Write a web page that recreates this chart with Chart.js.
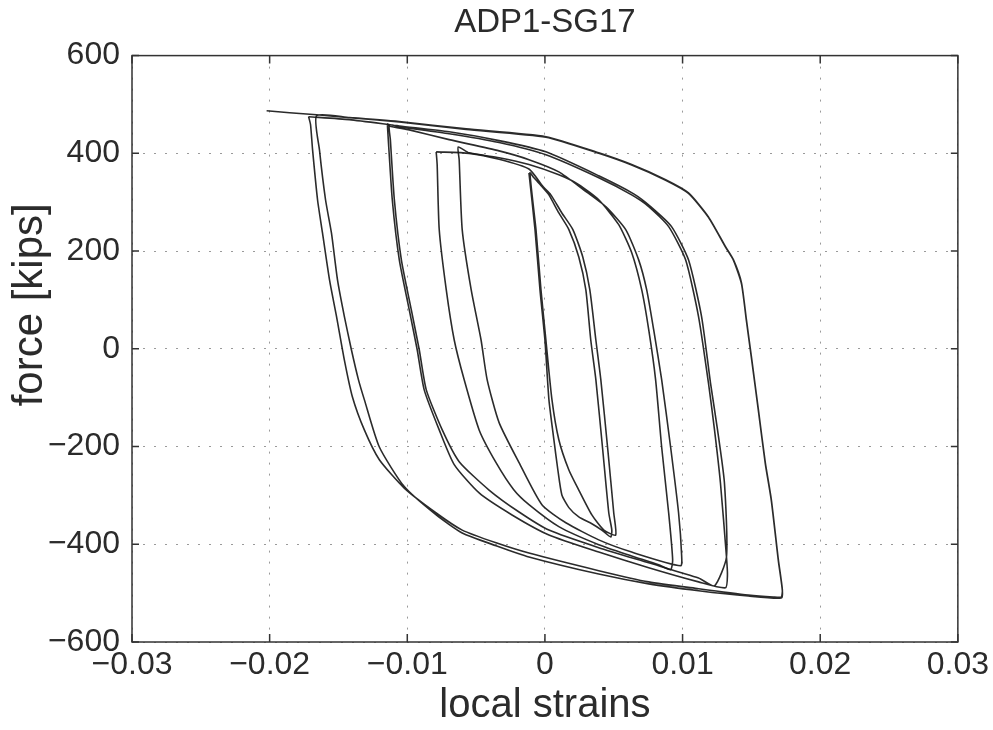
<!DOCTYPE html>
<html>
<head>
<meta charset="utf-8">
<title>ADP1-SG17</title>
<script src="https://cdn.jsdelivr.net/npm/chart.js"></script>
<style>
  html, body { margin: 0; padding: 0; background: #fff; }
  #wrap { width: 993px; height: 730px; }
</style>
</head>
<body>
<div id="wrap"><canvas id="chart" width="993" height="730"></canvas></div>
<script>
// Axis ticks and labels
const xTicks = [-0.03, -0.02, -0.01, 0, 0.01, 0.02, 0.03];
const xTickLabels = ['\u22120.03', '\u22120.02', '\u22120.01', '0', '0.01', '0.02', '0.03'];
const yTicks = [-600, -400, -200, 0, 200, 400, 600];
const yTickLabels = ['\u2212600', '\u2212400', '\u2212200', '0', '200', '400', '600'];
const yTitle = 'force [kips]';

// Cycles at the smallest amplitude (two loops)
const level1Strain = [
  -0.00116, -0.00072, -0.00036, 0, 0.00029, 0.00065, 0.00094, 0.00123, 0.00174, 0.00246, 0.00341, 0.00413, 0.00478,
  0.00486, 0.00464, 0.0042, 0.0037, 0.00333, 0.00297, 0.00246, 0.00174, 0.00101, 0.00029, -0.00022, -0.0008, -0.00109,
  -0.00065, -0.00029, 0.00007, 0.00051, 0.00101, 0.00174, 0.00246, 0.00341, 0.00428, 0.00514,
  0.005, 0.00457, 0.00406, 0.0037, 0.00326, 0.00275, 0.00203, 0.00123, 0.00043, -0.00014, -0.00116, -0.00333, -0.00551, -0.0079
];
const level1Force = [
  360, 244, 121, 18, -104, -186, -248, -299, -325, -344, -358, -371, -385,
  -371, -336, -207, -63, 18, 121, 188, 244, 278, 315, 332, 350, 360,
  244, 121, 18, -104, -186, -248, -289, -340, -371, -381,
  -336, -207, -63, 18, 121, 188, 244, 278, 315, 332, 368, 388, 400, 403
];

// Second amplitude (two loops)
const level2Strain = [
  -0.0079, -0.00783, -0.00768, -0.00717, -0.00659, -0.00587, -0.00478, -0.00355, -0.00225, -0.00116, 0.00101, 0.00391, 0.0063, 0.00826, 0.00913,
  0.00928, 0.00899, 0.00848, 0.00804, 0.00754, 0.00703, 0.0063, 0.00536, 0.00391, 0.00246, 0.00101, -0.00116, -0.00333, -0.00551, -0.0063,
  -0.00623, -0.00601, -0.00536, -0.00464, -0.0042, -0.00333, -0.00188, -0.00022, 0.00152, 0.00391, 0.0063, 0.00986,
  0.00993, 0.00971, 0.00913, 0.00848, 0.0079, 0.00739, 0.00681, 0.00587, 0.00442, 0.00283, 0.00101, -0.00116, -0.00333, -0.00696, -0.00986, -0.0113, -0.01145
];
const level2Force = [
  403, 377, 244, 121, 18, -63, -166, -233, -289, -319, -364, -401, -424, -442, -452,
  -432, -336, -201, -63, 39, 121, 197, 254, 305, 336, 356, 377, 391, 401, 413,
  387, 244, 121, 18, -63, -151, -233, -319, -356, -391, -416, -444,
  -422, -336, -201, -63, 39, 121, 182, 244, 291, 325, 362, 387, 405, 428, 448, 456, 461
];

// Third amplitude (two loops)
const level3Strain = [
  -0.01145, -0.01138, -0.01109, -0.01058, -0.00986, -0.00928, -0.00877, -0.00768, -0.00659, -0.00478, -0.00239, 0.00029, 0.00391, 0.00754, 0.01116, 0.01312,
  0.01326, 0.01319, 0.01275, 0.01232, 0.01188, 0.01116, 0.01022, 0.00899, 0.00754, 0.0063, 0.00391, 0.00007, -0.00333, -0.00696, -0.01058, -0.0113,
  -0.01123, -0.01094, -0.01043, -0.00971, -0.00913, -0.00862, -0.00746, -0.00623, -0.00406, -0.00188, 0.00029, 0.00391, 0.00754, 0.01116, 0.01232,
  0.01319, 0.01304, 0.01254, 0.01203, 0.01138, 0.01043, 0.0092, 0.00768, 0.00645, 0.00391, 0.00007, -0.00333, -0.00696, -0.01058, -0.0142, -0.01717
];
const level3Force = [
  461, 428, 305, 182, 80, -2, -84, -166, -237, -295, -340, -381, -416, -448, -477, -489,
  -463, -426, -274, -166, -70, 66, 182, 250, 291, 315, 350, 397, 422, 440, 454, 458,
  428, 305, 182, 80, -2, -84, -166, -231, -289, -334, -371, -407, -438, -469, -485,
  -426, -274, -166, -70, 66, 182, 250, 291, 317, 354, 403, 426, 444, 456, 469, 475
];

// Largest amplitude (two loops, then the final reload)
const level4Strain = [
  -0.01717, -0.01703, -0.01688, -0.01652, -0.01616, -0.01565, -0.01514, -0.01457, -0.01399, -0.01312, -0.01203, -0.01022, -0.0079, -0.00601, -0.00355, -0.00116, 0.00391, 0.00754, 0.01116, 0.01478, 0.01659, 0.01717,
  0.01725, 0.01696, 0.01645, 0.01601, 0.01551, 0.015, 0.01464, 0.01428, 0.0137, 0.01312, 0.01188, 0.01043, 0.00877, 0.0063, 0.00391, 0.00007, -0.00572, -0.01058, -0.0142, -0.01659,
  -0.01638, -0.01594, -0.01551, -0.01507, -0.01457, -0.01406, -0.01355, -0.01312, -0.01203, -0.01022, -0.0079, -0.00601, -0.00355, -0.00116, 0.00391, 0.00754, 0.01116, 0.01478, 0.01717,
  0.01725, 0.01696, 0.01645, 0.01601, 0.01551, 0.015, 0.01464, 0.01428, 0.0137, 0.01312, 0.01188, 0.01043, 0.00877, 0.0063, 0.00391, 0.00007, -0.00572, -0.01058, -0.0142, -0.01659, -0.01855, -0.02022
];
const level4Force = [
  475, 459, 407, 305, 237, 141, 66, -23, -98, -166, -227, -285, -336, -371, -397, -418, -454, -477, -491, -504, -508, -508,
  -493, -432, -309, -233, -125, -16, 59, 135, 182, 209, 270, 319, 346, 377, 401, 434, 450, 465, 473, 477,
  407, 305, 237, 141, 66, -2, -63, -104, -201, -282, -340, -377, -403, -426, -461, -481, -495, -506, -510,
  -495, -434, -311, -235, -127, -18, 57, 133, 181, 208, 269, 318, 345, 376, 400, 433, 449, 464, 473, 479, 483, 487
];

const fontFamily = "'Liberation Sans', Arial, Helvetica, sans-serif";
const textColor = '#2b2b2b';

function toPoints(strain, force) {
  return strain.map((x, i) => ({ x: x, y: force[i] }));
}

function loopDataset(strain, force) {
  return {
    data: toPoints(strain, force),
    showLine: true,
    borderColor: 'rgba(25, 25, 25, 0.92)',
    borderWidth: 1.6,
    pointRadius: 0,
    tension: 0.2,
    fill: false
  };
}

// Box round the plot with inward tick marks, as in the original figure,
// plus the y label, which sits a bit above the middle of the axis there
const framePlugin = {
  id: 'frame',
  afterDatasetsDraw(chart) {
    const { ctx, chartArea: a, scales } = chart;
    ctx.save();
    ctx.strokeStyle = '#333';
    ctx.lineWidth = 1.5;
    ctx.strokeRect(a.left, a.top, a.right - a.left, a.bottom - a.top);
    ctx.beginPath();
    xTicks.forEach(v => {
      const px = scales.x.getPixelForValue(v);
      ctx.moveTo(px, a.bottom); ctx.lineTo(px, a.bottom - 8);
      ctx.moveTo(px, a.top); ctx.lineTo(px, a.top + 8);
    });
    yTicks.forEach(v => {
      const py = scales.y.getPixelForValue(v);
      ctx.moveTo(a.left, py); ctx.lineTo(a.left + 7, py);
      ctx.moveTo(a.right, py); ctx.lineTo(a.right - 7, py);
    });
    ctx.stroke();

    ctx.translate(30, scales.y.getPixelForValue(90));
    ctx.rotate(-Math.PI / 2);
    ctx.fillStyle = textColor;
    ctx.font = '42px ' + fontFamily;
    ctx.textAlign = 'center';
    ctx.textBaseline = 'middle';
    ctx.fillText(yTitle, 0, 0);
    ctx.restore();
  }
};

const ctx = document.getElementById('chart').getContext('2d');
const chart = new Chart(ctx, {
  type: 'scatter',
  data: {
    datasets: [
      loopDataset(level1Strain, level1Force),
      loopDataset(level2Strain, level2Force),
      loopDataset(level3Strain, level3Force),
      loopDataset(level4Strain, level4Force)
    ]
  },
  options: {
    responsive: false,
    animation: false,
    layout: { padding: { left: 0, right: 33, top: 0, bottom: 0 } },
    plugins: {
      legend: { display: false },
      tooltip: { enabled: false },
      title: {
        display: true,
        text: 'ADP1-SG17',
        fullSize: false,
        color: textColor,
        font: { family: fontFamily, size: 33, weight: 'normal', lineHeight: 1.2 },
        padding: { top: 3, bottom: 13 }
      }
    },
    scales: {
      x: {
        type: 'linear',
        min: -0.03,
        max: 0.03,
        afterBuildTicks: s => { s.ticks = xTicks.map(v => ({ value: v })); },
        afterFit: s => { s.height = 88; },
        ticks: {
          callback: (v, i) => xTickLabels[i],
          color: textColor,
          font: { family: fontFamily, size: 32 },
          padding: 4,
          maxRotation: 0
        },
        grid: { color: '#9a9a9a', lineWidth: 1, drawTicks: false },
        border: { display: false, dash: [2, 9] },
        title: {
          display: true,
          text: 'local strains',
          color: textColor,
          font: { family: fontFamily, size: 40, lineHeight: 1.2 },
          padding: { top: 0, bottom: 0 }
        }
      },
      y: {
        type: 'linear',
        min: -600,
        max: 600,
        afterBuildTicks: s => { s.ticks = yTicks.map(v => ({ value: v })); },
        afterFit: s => { s.width = 132; },
        ticks: {
          callback: (v, i) => yTickLabels[i],
          color: textColor,
          font: { family: fontFamily, size: 32 },
          padding: 12
        },
        grid: { color: '#9a9a9a', lineWidth: 1, drawTicks: false },
        border: { display: false, dash: [2, 9] },
        title: { display: false }
      }
    }
  },
  plugins: [framePlugin]
});
</script>
</body>
</html>
